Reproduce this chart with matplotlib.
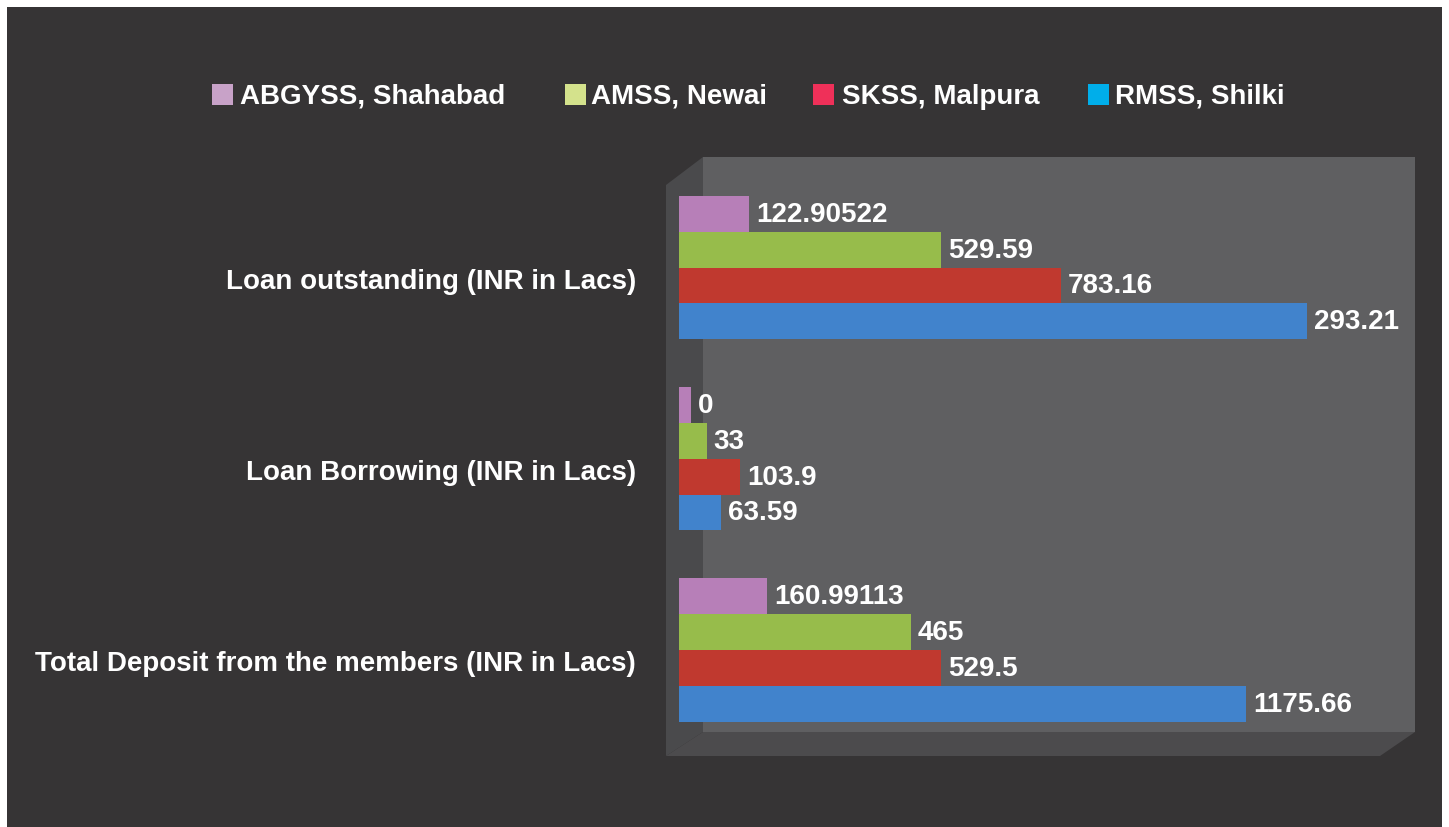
import matplotlib
matplotlib.use("Agg")
import matplotlib.pyplot as plt
import matplotlib.transforms as mtransforms
from matplotlib.patches import Rectangle, Polygon
import numpy as np

plt.rcParams['font.family'] = ['Liberation Sans', 'DejaVu Sans']

categories = ["Loan outstanding (INR in Lacs)",
              "Loan Borrowing (INR in Lacs)",
              "Total Deposit from the members (INR in Lacs)"]
series = ["ABGYSS, Shahabad", "AMSS, Newai", "SKSS, Malpura", "RMSS, Shilki"]

# bar lengths as drawn (one bar length disagrees with its printed label)
abgyss = [122.90522, 0, 160.99113]
amss = [529.59, 33, 465]
skss = [783.16, 103.9, 529.5]
rmss = [1305, 63.59, 1175.66]
values = [abgyss, amss, skss, rmss]

# printed data labels
abgyss_lbl = ["122.90522", "0", "160.99113"]
amss_lbl = ["529.59", "33", "465"]
skss_lbl = ["783.16", "103.9", "529.5"]
rmss_lbl = ["293.21", "63.59", "1175.66"]
labels = [abgyss_lbl, amss_lbl, skss_lbl, rmss_lbl]

bar_colors = ["#b77fb8", "#97bc4b", "#c0392f", "#4183cc"]
legend_colors = ["#c8a2c8", "#d4e28c", "#ef3059", "#00aeea"]

W, H = 1449, 828
FS = 20


def fx(x):
    return x / W


def fy(y):
    return 1 - y / H


def poly(pts, color, z):
    fig.patches.append(Polygon([(fx(a), fy(b)) for a, b in pts], closed=True,
                               transform=fig.transFigure, facecolor=color,
                               edgecolor="none", zorder=z))


fig = plt.figure(figsize=(W / 100, H / 100), dpi=100, facecolor="white")

# dark panel and 3d-style box
poly([(7, 8), (1442, 8), (1442, 828), (7, 828)], "#363435", 0)
poly([(703, 158), (1415, 158), (1415, 733), (703, 733)], "#5f5f61", 1)
poly([(666, 186), (703, 158), (703, 733), (666, 757)], "#4a4a4c", 1)
poly([(666, 757), (703, 733), (1415, 733), (1380, 757)], "#4c4b4d", 1)

ax = fig.add_axes([fx(679), fy(733), fx(1415) - fx(679), fy(158) - fy(733)])
ax.set_zorder(5)
ax.patch.set_visible(False)
for s in ax.spines.values():
    s.set_visible(False)

base = 25.4       # small visible stub at zero, as in the 3d chart
bh = 0.187
y = np.arange(len(categories))
for i, (vals, lbls) in enumerate(zip(values, labels)):
    bars = ax.barh(y + (i - 1.5) * bh, np.array(vals) + base, left=-base,
                   height=bh, color=bar_colors[i], zorder=3)
    ax.bar_label(bars, labels=lbls, padding=5, color="white",
                 fontweight="bold", fontsize=FS)

ax.set_xlim(-base, 1533.6)
ax.set_ylim(2.4288, -0.5778)
ax.set_xticks([])
ax.set_yticks(y)
ax.set_yticklabels(categories, color="white", fontweight="bold", fontsize=FS)
ax.tick_params(axis="y", length=0, pad=31)
shift = mtransforms.ScaledTranslation(0, -0.10, fig.dpi_scale_trans)
for lab in ax.get_yticklabels():
    lab.set_transform(lab.get_transform() + shift)

# legend row
sq_x = [212, 565, 813, 1088]
tx_x = [240, 591, 842, 1115]
for name, c, sx, tx in zip(series, legend_colors, sq_x, tx_x):
    fig.patches.append(Rectangle((fx(sx), fy(106)), fx(21), 21 / H,
                                 transform=fig.transFigure, facecolor=c,
                                 edgecolor="none", zorder=2))
    fig.text(fx(tx), fy(104), name, color="white", fontweight="bold",
             fontsize=FS, va="baseline", ha="left")

fig.savefig("out.png", dpi=100, facecolor="white")
